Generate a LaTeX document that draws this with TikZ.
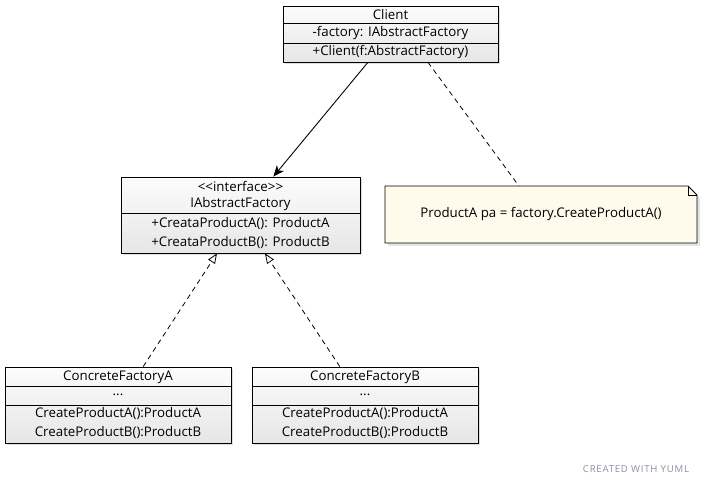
\documentclass[tikz,border=0pt]{standalone}
\usepackage{fontspec}
\setmainfont{Open Sans}
\usetikzlibrary{arrows.meta,shadows,calc}
\definecolor{boxtop}{HTML}{FCFCFC}
\definecolor{boxbot}{HTML}{E6E6E6}
\definecolor{notefill}{HTML}{FEFBEC}
\definecolor{yumlgray}{HTML}{8A93A0}
\tikzset{
  umlbox/.style={draw=black, line width=0.8pt, top color=boxtop, bottom color=boxbot,
    drop shadow={shadow xshift=2pt, shadow yshift=-2pt, opacity=0.25}, inner sep=0pt},
  sepline/.style={draw=black, line width=0.8pt},
  umltext/.style={font=\fontsize{13.3}{15}\selectfont, inner sep=0pt},
  assoc/.style={draw=black, line width=0.9pt, -{Stealth[length=11pt,width=9pt,inset=3pt]}},
  dep/.style={draw=black, line width=0.8pt, dashed, dash pattern=on 5pt off 4pt},
  realize/.style={draw=black, line width=0.8pt, dash pattern=on 5pt off 4pt,
    -{Triangle[open,length=10pt,width=8pt]}},
}
\begin{document}
\begin{tikzpicture}[x=1pt,y=-1pt]
\useasboundingbox[fill=white] (0,0) rectangle (703,485);

% Client
\node[umlbox, minimum width=215pt, minimum height=56pt] (client) at (390.5,34) {};
\draw[sepline] (283,23) -- (498,23);
\draw[sepline] (283,43) -- (498,43);
\node[umltext] (clientT) at (390.5,15) {Client};
\node[umltext] (clientA) at (390.5,33) {-factory: IAbstractFactory};
\node[umltext] (clientM) at (390.5,52.5) {+Client(f:AbstractFactory)};

% IAbstractFactory
\node[umlbox, minimum width=239pt, minimum height=76pt] (iaf) at (240.5,215) {};
\draw[sepline] (121,213) -- (360,213);
\node[umltext] (iafS) at (240.5,186) {\mbox{<}\mbox{<}interface\mbox{>}\mbox{>}};
\node[umltext] (iafT) at (240.5,204) {IAbstractFactory};
\node[umltext] (iafM1) at (240.5,223) {+CreataProductA(): ProductA};
\node[umltext] (iafM2) at (240.5,242) {+CreataProductB(): ProductB};

% Note
\node[minimum width=312pt, minimum height=57pt, inner sep=0pt] (note) at (541,214.5) {};
\fill[gray, opacity=0.2] (388,189) -- (691,189) -- (700,198) -- (700,246) -- (388,246) -- cycle;
\draw[line width=0.8pt, fill=notefill] (385,186) -- (688,186) -- (697,195) -- (697,243) -- (385,243) -- cycle;
\draw[line width=0.8pt] (688,186) -- (688,195) -- (697,195);
\node[umltext] (noteT) at (541,214) {ProductA pa = factory.CreateProductA()};

% ConcreteFactoryA
\node[umlbox, minimum width=226pt, minimum height=76pt] (cfa) at (118,405) {};
\draw[sepline] (5,386) -- (231,386);
\draw[sepline] (5,405) -- (231,405);
\node[umltext] (cfaT) at (118,377) {ConcreteFactoryA};
\node[umltext] (cfaD) at (118,395) {...};
\node[umltext] (cfaM1) at (118,413) {CreateProductA():ProductA};
\node[umltext] (cfaM2) at (118,432) {CreateProductB():ProductB};

% ConcreteFactoryB
\node[umlbox, minimum width=226pt, minimum height=76pt] (cfb) at (365,405) {};
\draw[sepline] (252,386) -- (478,386);
\draw[sepline] (252,405) -- (478,405);
\node[umltext] (cfbT) at (365,377) {ConcreteFactoryB};
\node[umltext] (cfbD) at (365,395) {...};
\node[umltext] (cfbM1) at (365,413) {CreateProductA():ProductA};
\node[umltext] (cfbM2) at (365,432) {CreateProductB():ProductB};

% connectors
\coordinate (c1) at ($(client.south west)!0.395!(client.south east)$);
\coordinate (i1) at ($(iaf.north west)!0.637!(iaf.north east)$);
\draw[assoc] (c1) -- (i1);
\coordinate (c2) at ($(client.south west)!0.674!(client.south east)$);
\coordinate (n1) at ($(note.north west)!0.429!(note.north east)$);
\draw[dep] (c2) -- (n1);
\coordinate (a1) at ($(cfa.north west)!0.611!(cfa.north east)$);
\coordinate (i2) at ($(iaf.south west)!0.402!(iaf.south east)$);
\draw[realize] (a1) -- (i2);
\coordinate (b1) at ($(cfb.north west)!0.389!(cfb.north east)$);
\coordinate (i3) at ($(iaf.south west)!0.602!(iaf.south east)$);
\draw[realize] (b1) -- (i3);

\node[font=\fontsize{9.6}{11}\selectfont\addfontfeature{LetterSpace=8}, text=yumlgray, inner sep=0pt] (yuml) at (636,469) {CREATED WITH YUML};
\end{tikzpicture}
\end{document}
